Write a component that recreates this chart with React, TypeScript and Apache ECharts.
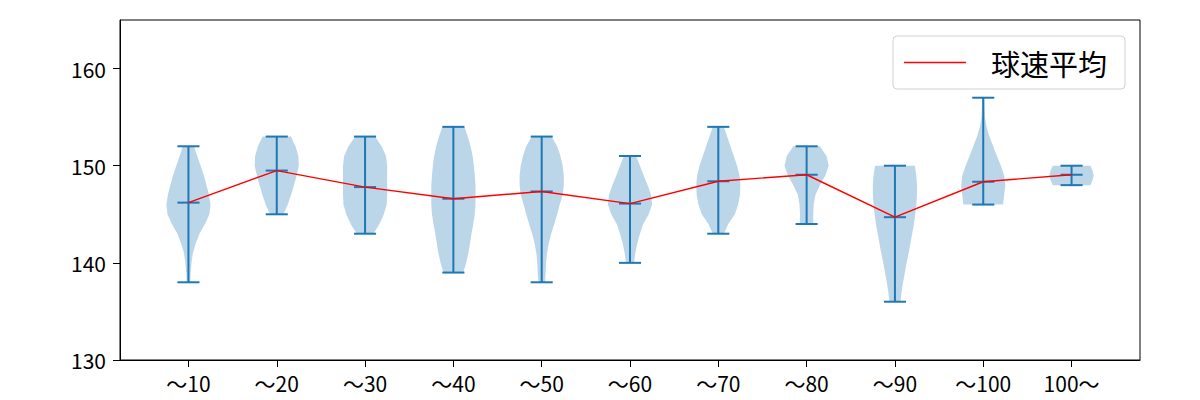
import React, { useEffect, useRef } from "react";
import * as echarts from "echarts";

const categories = ["～10", "～20", "～30", "～40", "～50", "～60", "～70", "～80", "～90", "～100", "100～"];
const positions = [1, 2, 3, 4, 5, 6, 7, 8, 9, 10, 11];
const minValues = [138, 145, 143, 139, 138, 140, 143, 144, 136, 146, 148];
const maxValues = [152, 153, 153, 154, 153, 151, 154, 152, 150, 157, 150];
const meanValues = [146.2, 149.5, 147.8, 146.6, 147.35, 146.1, 148.4, 149.07, 144.7, 148.35, 149.07];
const yTicks = [130, 140, 150, 160];
const seriesName = "球速平均";

// density profiles: [speed, relative half-width (1 = widest)]
const profile10 = [[152, 0.25], [151, 0.4], [150, 0.55], [149, 0.7], [148, 0.82], [147, 0.93], [146, 1.0], [145, 0.95], [144, 0.75], [143, 0.5], [142, 0.33], [141, 0.2], [140, 0.14], [139, 0.1], [138, 0.08]];
const profile20 = [[153, 0.64], [152, 0.85], [151, 0.98], [150, 1.0], [149, 0.9], [148, 0.78], [147, 0.65], [146, 0.5], [145, 0.3]];
const profile30 = [[153, 0.45], [152, 0.75], [151, 0.95], [150, 1.0], [149, 1.0], [148, 1.0], [147, 1.0], [146, 0.98], [145, 0.85], [144, 0.65], [143, 0.38]];
const profile40 = [[154, 0.5], [153, 0.65], [152, 0.78], [151, 0.87], [150, 0.93], [149, 0.97], [148, 1.0], [147, 1.0], [146, 1.0], [145, 0.97], [144, 0.9], [143, 0.82], [142, 0.75], [141, 0.68], [140, 0.58], [139, 0.45]];
const profile50 = [[153, 0.45], [152, 0.7], [151, 0.85], [150, 0.95], [149, 1.0], [148, 1.0], [147, 0.95], [146, 0.82], [145, 0.7], [144, 0.57], [143, 0.43], [142, 0.32], [141, 0.24], [140, 0.2], [139, 0.18], [138, 0.15]];
const profile60 = [[151, 0.28], [150, 0.45], [149, 0.62], [148, 0.8], [147, 0.95], [146, 1.0], [145, 0.85], [144, 0.6], [143, 0.45], [142, 0.33], [141, 0.24], [140, 0.18]];
const profile70 = [[154, 0.25], [153, 0.4], [152, 0.55], [151, 0.7], [150, 0.85], [149, 0.96], [148, 1.0], [147, 0.98], [146, 0.9], [145, 0.75], [144, 0.45], [143, 0.25]];
const profile80 = [[152, 0.6], [151, 0.9], [150, 1.0], [149, 0.85], [148, 0.6], [147, 0.4], [146, 0.32], [145, 0.3], [144, 0.3]];
const profile90 = [[150, 0.9], [149, 0.97], [148, 1.0], [147, 1.0], [146, 0.97], [145, 0.92], [144, 0.86], [143, 0.78], [142, 0.7], [141, 0.62], [140, 0.53], [139, 0.45], [138, 0.37], [137, 0.3], [136, 0.25]];
const profile100 = [[157, 0.05], [156, 0.06], [155, 0.08], [154, 0.15], [153, 0.28], [152, 0.45], [151, 0.62], [150, 0.8], [149, 0.95], [148, 1.0], [147, 0.95], [146, 0.9]];
const profileOver100 = [[150, 0.85], [149.5, 0.95], [149, 1.0], [148.5, 0.95], [148, 0.85]];
const profiles = [profile10, profile20, profile30, profile40, profile50, profile60, profile70, profile80, profile90, profile100, profileOver100];

const BLUE = "#1f77b4";

export default function App() {
  const ref = useRef<HTMLDivElement>(null);
  useEffect(() => {
    document.body.style.margin = "0";
    const chart = echarts.init(ref.current!, null, { renderer: "svg" });
    const halfMax = 0.25;
    const capHalf = 0.125;

    const violinData = positions.map((p, i) => [p, minValues[i], maxValues[i], meanValues[i]]);

    const option: any = {
      animation: false,
      grid: { left: 120, top: 20, width: 1020, height: 340, show: true, borderColor: "#000", borderWidth: 1, backgroundColor: "transparent" },
      xAxis: {
        type: "value",
        min: 0.225,
        max: 11.775,
        splitLine: { show: false },
        axisLine: { show: true, onZero: false, lineStyle: { color: "#000", width: 1 } },
        axisTick: { show: true, length: 7, lineStyle: { color: "#000" }, customValues: positions },
        axisLabel: {
          customValues: positions,
          color: "#000",
          fontSize: 21,
          fontFamily: "Noto Sans CJK JP",
          margin: 12,
          formatter: (v: number) => categories[Math.round(v) - 1] ?? "",
        },
      },
      yAxis: {
        type: "value",
        min: 130,
        max: 165,
        splitLine: { show: false },
        axisLine: { show: true, lineStyle: { color: "#000", width: 1 } },
        axisTick: { show: true, length: 7, lineStyle: { color: "#000" }, customValues: yTicks },
        axisLabel: { customValues: yTicks, color: "#000", fontSize: 21, fontFamily: "Noto Sans CJK JP", margin: 14 },
      },
      legend: {
        show: true,
        left: 893,
        top: 36,
        orient: "vertical",
        data: [{ name: seriesName, icon: "rect" }],
        itemWidth: 62,
        itemHeight: 1.5,
        padding: [12, 18, 12, 11],
        borderColor: "#d0d0d0",
        borderWidth: 1,
        borderRadius: 4,
        textStyle: { fontSize: 29, fontFamily: "Noto Sans CJK JP", color: "#000", padding: [0, 0, 0, 20] },
        selectedMode: false,
      },
      series: [
        {
          type: "custom",
          name: "violin",
          data: violinData,
          encode: { x: 0, y: [1, 2] },
          z: 2,
          renderItem: (params: any, api: any) => {
            const i = params.dataIndex;
            const x = api.value(0);
            const lo = api.value(1);
            const hi = api.value(2);
            const mean = api.value(3);
            const prof = profiles[i];
            const right = prof.map(([v, w]: number[]) => api.coord([x + w * halfMax, v]));
            const left = prof.slice().reverse().map(([v, w]: number[]) => api.coord([x - w * halfMax, v]));
            const ls = { stroke: BLUE, lineWidth: 2 };
            const cap = (v: number) => {
              const a = api.coord([x - capHalf, v]);
              const b = api.coord([x + capHalf, v]);
              return { type: "line", shape: { x1: a[0], y1: a[1], x2: b[0], y2: b[1] }, style: ls };
            };
            const top = api.coord([x, hi]);
            const bot = api.coord([x, lo]);
            return {
              type: "group",
              children: [
                { type: "polygon", shape: { points: right.concat(left) }, style: { fill: "rgba(31,119,180,0.3)", stroke: "none" } },
                { type: "line", shape: { x1: top[0], y1: top[1], x2: bot[0], y2: bot[1] }, style: ls },
                cap(hi),
                cap(lo),
                cap(mean),
              ],
            };
          },
        },
        {
          type: "line",
          name: seriesName,
          data: positions.map((p, i) => [p, meanValues[i]]),
          symbol: "none",
          z: 5,
          itemStyle: { color: "#ff0000" },
          lineStyle: { color: "#ff0000", width: 1.4 },
        },
      ],
    };
    chart.setOption(option);
    return () => chart.dispose();
  }, []);
  return <div ref={ref} style={{ width: 1200, height: 400, position: "absolute", left: 0, top: 0 }} />;
}
